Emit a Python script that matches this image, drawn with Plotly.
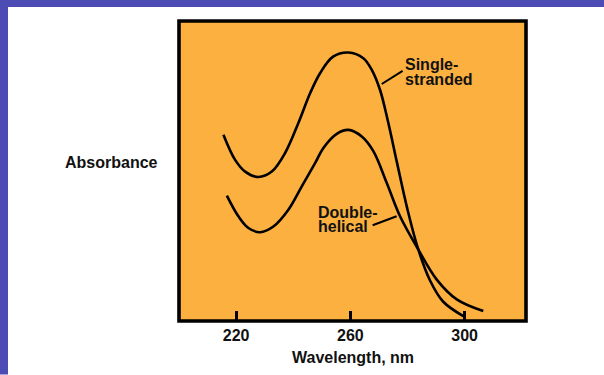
import plotly.graph_objects as go

# ---- data (absorbance in arbitrary units) ----
wavelength_single = [215.55, 219.65, 223.15, 227.8, 232.5, 237.15, 241.8, 245.9, 249.4, 253.95, 259.3,
                     264.55, 267.5, 270.4, 273.2, 276.35, 279.85, 283.7, 287.9, 292.45, 299.55]
absorbance_single = [0.621, 0.537, 0.498, 0.480, 0.498, 0.560, 0.660, 0.759, 0.826, 0.881, 0.895,
                     0.876, 0.837, 0.770, 0.664, 0.527, 0.378, 0.241, 0.135, 0.065, 0.016]

wavelength_double = [216.75, 220.8, 224.3, 228.4, 233.05, 238.3, 243.0, 247.65, 250.55, 255.25, 259.3,
                     264.0, 268.05, 272.75, 277.4, 283.8, 290.25, 297.25, 306.55]
absorbance_double = [0.418, 0.349, 0.310, 0.296, 0.315, 0.371, 0.449, 0.526, 0.577, 0.624, 0.637,
                     0.615, 0.566, 0.460, 0.349, 0.238, 0.138, 0.072, 0.033]

tick_values = [220, 260, 300]
tick_labels = ["220", "260", "300"]

FONT = "Liberation Sans, Arial, Helvetica, sans-serif"
ORANGE = "#FBB040"
BLUE = "#4C4CB4"

fig = go.Figure()
for xs, ys in [(wavelength_single, absorbance_single), (wavelength_double, absorbance_double)]:
    fig.add_trace(go.Scatter(x=xs, y=ys, mode="lines",
                             line=dict(color="black", width=2.6, shape="spline", smoothing=1.0),
                             showlegend=False, hoverinfo="skip"))

W, H = 604, 375
L, R, T, B = 179, 526, 21, 321.5
pw, ph = R - L, B - T

def px_x(p):
    return (p - L) / pw

def px_y(p):
    return (B - p) / ph

shapes = [
    # blue slide border (top & left)
    dict(type="rect", xref="paper", yref="paper", x0=px_x(0), x1=px_x(W), y0=px_y(7), y1=px_y(0),
         fillcolor=BLUE, line=dict(width=0), layer="below"),
    dict(type="rect", xref="paper", yref="paper", x0=px_x(0), x1=px_x(8), y0=px_y(H), y1=px_y(0),
         fillcolor=BLUE, line=dict(width=0), layer="below"),
    # frame
    dict(type="rect", xref="paper", yref="paper", x0=0, x1=1, y0=0, y1=1,
         line=dict(color="black", width=3.6), layer="above"),
    # pointer lines
    dict(type="line", xref="x", yref="y", x0=271.0, y0=0.790, x1=278.3, y1=0.834,
         line=dict(color="black", width=2)),
    dict(type="line", xref="x", yref="y", x0=267.8, y0=0.319, x1=276.2, y1=0.349,
         line=dict(color="black", width=2)),
]

txt = dict(family=FONT, size=16, color="#111111", weight="bold")
annotations = [
    dict(text="Single-", x=278.4, y=0.8536, xref="x", yref="y", xanchor="left", yanchor="middle", showarrow=False, font=txt),
    dict(text="stranded", x=278.4, y=0.8037, xref="x", yref="y", xanchor="left", yanchor="middle", showarrow=False, font=txt),
    dict(text="Double-", x=248.0, y=0.361, xref="x", yref="y", xanchor="left", yanchor="middle", showarrow=False, font=txt),
    dict(text="helical", x=248.0, y=0.3145, xref="x", yref="y", xanchor="left", yanchor="middle", showarrow=False, font=txt),
    dict(text="Absorbance", x=px_x(111.5), y=px_y(163), xref="paper", yref="paper", xanchor="center", yanchor="middle", showarrow=False, font=txt),
    dict(text="Wavelength, nm", x=0.5, y=px_y(358), xref="paper", yref="paper", xanchor="center", yanchor="middle", showarrow=False, font=txt),
]

fig.update_layout(
    width=W, height=H,
    margin=dict(l=L, r=W - R, t=T, b=H - B, pad=0),
    paper_bgcolor="white", plot_bgcolor=ORANGE,
    shapes=shapes, annotations=annotations,
    xaxis=dict(range=[200, 321.5], tickvals=tick_values, ticktext=tick_labels,
               ticks="inside", ticklen=10, tickwidth=3, tickcolor="black",
               ticklabelstandoff=3,
               showgrid=False, zeroline=False, showline=False,
               tickfont=dict(family=FONT, size=16, color="#111111", weight="bold"), fixedrange=True),
    yaxis=dict(range=[0, 1], showticklabels=False, ticks="", showgrid=False,
               zeroline=False, showline=False, fixedrange=True),
)

fig.write_html(
    "out.html",
    config={"displayModeBar": False},
    post_script="document.body.style.margin='0';document.body.style.padding='0';"
                "document.documentElement.style.overflow='hidden';",
)
